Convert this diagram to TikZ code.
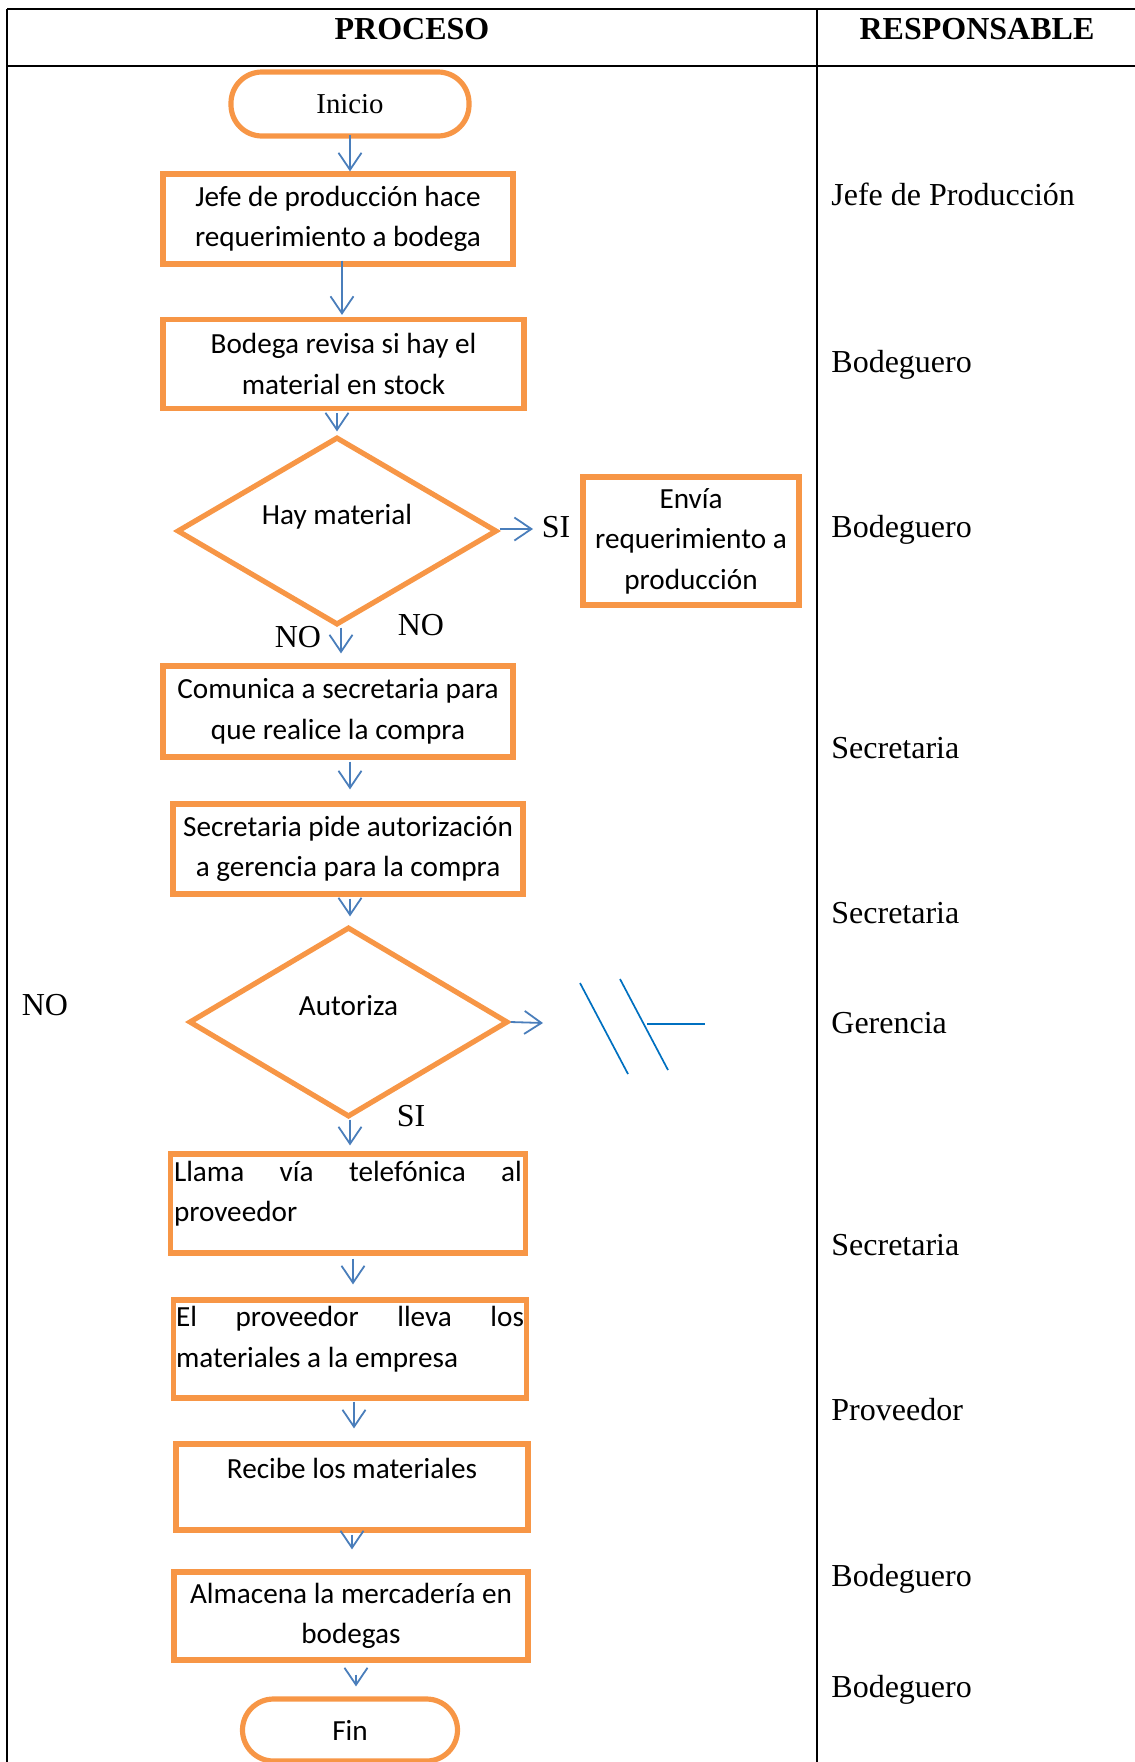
\documentclass[tikz,border=0pt]{standalone}
\usepackage{fontspec}
\setmainfont{Liberation Serif}
\newfontfamily\calfont{Carlito}
\usetikzlibrary{shapes.geometric,arrows.meta}
\definecolor{boxorange}{HTML}{F79646}
\definecolor{flowblue}{HTML}{4A7EBB}
\definecolor{markblue}{HTML}{0070C0}

\begin{document}
\begin{tikzpicture}[x=0.5pt,y=-0.5pt,
  stepbox/.style={draw=boxorange, line width=2.6pt, rectangle, inner sep=0pt,
    align=center, font=\calfont\fontsize{14.6}{20.3}\selectfont},
  endbox/.style={stepbox, rounded corners=15.5pt},
  testbox/.style={draw=boxorange, line width=2.6pt, diamond, shape aspect=1.7,
    inner sep=0pt, font=\calfont\fontsize{14.6}{20.3}\selectfont},
  flow/.style={draw=flowblue, line width=0.9pt,
    -{Straight Barb[length=8.5pt,width=11.5pt,line width=0.9pt]}},
  tag/.style={inner sep=0pt, anchor=base, font=\fontsize{16}{19}\selectfont},
  role/.style={inner sep=0pt, anchor=base west, font=\fontsize{16}{19}\selectfont},
  head/.style={inner sep=0pt, anchor=base, font=\bfseries\fontsize{16}{19}\selectfont},
  rule/.style={draw=black, line width=1pt}]

\useasboundingbox (0,0) rectangle (1135,1762);

% table frame
\draw[rule, line width=1.2pt] (7,9) -- (1135,9);
\draw[rule] (7,66) -- (1135,66);
\draw[rule] (7,9) -- (7,1762);
\draw[rule] (817,9) -- (817,1762);

\node[head] (hproc) at (412,39) {PROCESO};
\node[head] (hresp) at (977,39) {RESPONSABLE};

% process steps
\node[endbox, minimum width=119pt, minimum height=32pt,
  font=\fontsize{14.4}{17}\selectfont] (ini) at (350,104) {Inicio};
\node[stepbox, minimum width=175pt, minimum height=45pt] (b1) at (338,219)
  {Jefe de producción hace\\requerimiento a bodega};
\node[stepbox, minimum width=180.5pt, minimum height=44.5pt] (b2) at (343.5,364)
  {Bodega revisa si hay el\\material en stock};
\node[testbox, minimum width=160pt, minimum height=94pt] (d1) at (337,531)
  {\raisebox{17pt}{Hay material}};
\node[stepbox, minimum width=108pt, minimum height=64pt] (env) at (691,541)
  {Envía\\requerimiento a\\producción};
\node[stepbox, minimum width=175pt, minimum height=45.5pt] (b3) at (338,711.5)
  {Comunica a secretaria para\\que realice la compra};
\node[stepbox, minimum width=175pt, minimum height=45pt] (b4) at (348,849)
  {Secretaria pide autorización\\a gerencia para la compra};
\node[testbox, minimum width=159.5pt, minimum height=95pt] (d2) at (348.5,1022)
  {\raisebox{17pt}{Autoriza}};
\node[stepbox, minimum width=177.5pt, minimum height=49.5pt] (b5) at (348,1203.5)
  {\makebox[174pt]{Llama\hfill vía\hfill telefónica\hfill al}\\
   \makebox[174pt][l]{proveedor}\\[-8pt]\mbox{}};
\node[stepbox, minimum width=176.5pt, minimum height=49pt] (b6) at (350,1349)
  {\makebox[174pt]{El\hfill proveedor\hfill lleva\hfill los}\\
   \makebox[174pt][l]{materiales a la empresa}\\[-8pt]\mbox{}};
\node[stepbox, minimum width=176pt, minimum height=43pt] (b7) at (352,1487)
  {Recibe los materiales\\[-2pt]\mbox{}};
\node[stepbox, minimum width=177pt, minimum height=44pt] (b8) at (351,1616)
  {Almacena la mercadería en\\bodegas};
\node[endbox, minimum width=107.5pt, minimum height=31pt] (fin) at (350,1730) {Fin};

% branch labels
\node[tag] (si1) at (556,537) {SI};
\node[tag] (no1) at (298,647) {NO};
\node[tag] (no2) at (421,635) {NO};
\node[tag] (no3) at (45,1015) {NO};
\node[tag] (si2) at (411,1126) {SI};
\coordinate (d1out) at (533,529);
\coordinate (d2out) at (543,1023);

% connectors
\draw[flow] ([yshift=2pt]ini.south) -- (ini.south |- b1.north);
\draw[flow] ([xshift=2pt,yshift=3pt]b1.south) -- ([xshift=-0.75pt,yshift=1pt]b2.north);
\draw[flow] ([xshift=-3.25pt,yshift=-1pt]b2.south) -- ([yshift=1.5pt]d1.north);
\draw[flow] ([xshift=2pt]d1.south) -- ([xshift=1.5pt,yshift=5pt]b3.north);
\draw[flow] ([yshift=1pt]d1.east) -- (d1out);
\draw[flow] ([xshift=6pt,yshift=-1pt]b3.south) -- ([xshift=1pt,yshift=6pt]b4.north);
\draw[flow] ([xshift=1pt,yshift=-1pt]b4.south) -- ([xshift=0.75pt,yshift=4pt]d2.north);
\draw[flow] (d2.east) -- (d2out);
\draw[flow] ([xshift=0.75pt]d2.south) -- ([xshift=1pt,yshift=3pt]b5.north);
\draw[flow] ([xshift=2.5pt,yshift=-1.5pt]b5.south) -- ([xshift=1.5pt,yshift=6.5pt]b6.north);
\draw[flow] ([xshift=2pt,yshift=-0.5pt]b6.south) -- ([xshift=1pt,yshift=6.5pt]b7.north);
\draw[flow] ([yshift=-1pt]b7.south) -- ([xshift=0.5pt,yshift=10pt]b8.north);
\draw[flow] ([xshift=2.5pt,yshift=-6pt]b8.south) -- ([xshift=3pt,yshift=5pt]fin.north);

% off-page connector mark beside the authorisation test
\draw[markblue, line width=0.85pt] (580,983) -- (628,1074);
\draw[markblue, line width=0.85pt] (620,979) -- (668,1070);
\draw[markblue, line width=0.85pt] (647,1024) -- (705,1024);

% responsible column
\node[role] (r1) at (831,205) {Jefe de Producción};
\node[role] (r2) at (831,372) {Bodeguero};
\node[role] (r3) at (831,537) {Bodeguero};
\node[role] (r4) at (831,758) {Secretaria};
\node[role] (r5) at (831,923) {Secretaria};
\node[role] (r6) at (831,1033) {Gerencia};
\node[role] (r7) at (831,1255) {Secretaria};
\node[role] (r8) at (831,1420) {Proveedor};
\node[role] (r9) at (831,1586) {Bodeguero};
\node[role] (r10) at (831,1697) {Bodeguero};
\end{tikzpicture}
\end{document}
